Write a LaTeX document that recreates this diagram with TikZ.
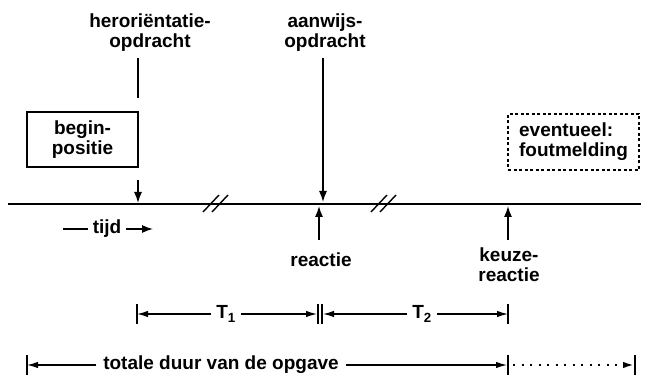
\documentclass[tikz,border=0pt]{standalone}
\usepackage{fontspec}
\setmainfont{Liberation Sans}
\usetikzlibrary{arrows.meta}
\begin{document}
\begin{tikzpicture}[x=1pt,y=-1pt,
  font=\fontsize{19}{20}\selectfont\bfseries,
  lab/.style={align=center, inner sep=0pt},
  thinl/.style={line width=1.4pt},
  tip/.style={-{Latex[length=11pt,width=8pt]}},
  dimtip/.style={-{Latex[length=11pt,width=6.5pt]}},
  barl/.style={line width=1.4pt},
  boxed/.style={draw, line width=1.5pt, align=center, inner sep=0pt},
  dimlab/.style={inner xsep=5pt, inner ysep=0pt}]
\useasboundingbox (0,0) rectangle (649,379);

% main time line
\coordinate (L) at (8,204);
\coordinate (R) at (641,204);
\draw[line width=1.9pt] (L) -- (R);
% break marks
\draw[thinl] (203,212) -- (219,195);
\draw[thinl] (212,212) -- (228,195);
\draw[thinl] (371,212) -- (387,195);
\draw[thinl] (380,212) -- (396,195);

% heroriëntatie-opdracht
\node[lab] (hero) at (150,33) {heroriëntatie-\\opdracht};
\coordinate (h1) at (138,58);
\coordinate (h2) at (138,98);
\draw[thinl] (h1) -- (h2);
\node[boxed, minimum width=111pt, minimum height=55pt] (begin) at (82.5,139.5) {begin-\\positie};
\coordinate (a1) at (138,180);
\coordinate (t1) at (138,203);
\draw[thinl,tip] (a1) -- (t1);

% tijd
\node[dimlab] (tijd) at (107,229) {tijd};
\coordinate (tl) at (63,229);
\coordinate (tr) at (153,229);
\draw[thinl] (tijd.west) -- (tl);
\draw[thinl,tip] (tijd.east) -- (tr);

% aanwijs-opdracht
\node[lab] (aan) at (325,33) {aanwijs-\\opdracht};
\coordinate (a2) at (323,58);
\coordinate (t2) at (323,202);
\draw[thinl,tip] (a2) -- (t2);

% reactie
\node[lab] (rea) at (321,260) {reactie};
\coordinate (r1) at (319,240);
\coordinate (r2) at (319,206);
\draw[thinl,tip] (r1) -- (r2);

% keuze-reactie
\node[lab] (keu) at (509,265) {keuze-\\reactie};
\coordinate (k1) at (508,240);
\coordinate (k2) at (508,206);
\draw[thinl,tip] (k1) -- (k2);

% eventueel foutmelding
\node[boxed, align=left, dash pattern=on 3pt off 2.5pt, minimum width=131pt, minimum height=56pt] (fout) at (573.5,142) {eventueel:\\foutmelding};

% T1 and T2
\node[dimlab] (T1) at (226,314) {T\textsubscript{1}};
\node[dimlab] (T2) at (422,314) {T\textsubscript{2}};
\coordinate (d1) at (137,314);
\coordinate (d2) at (317,314);
\coordinate (d3) at (323,314);
\coordinate (d4) at (508,314);
\draw[thinl,dimtip] (T1.west) -- (d1);
\draw[thinl,dimtip] (T1.east) -- (d2);
\draw[thinl,dimtip] (T2.west) -- (d3);
\draw[thinl,dimtip] (T2.east) -- (d4);
\foreach \x in {137,318,322,508} \draw[barl] (\x,304) -- (\x,324);

% totale duur
\node[dimlab, inner xsep=7pt] (tot) at (221,365) {totale duur van de opgave};
\coordinate (e1) at (27,365);
\coordinate (e2) at (507,365);
\coordinate (e3) at (513,365);
\coordinate (e4) at (634,365);
\draw[thinl,dimtip] (tot.west) -- (e1);
\draw[thinl,dimtip] (tot.east) -- (e2);
\draw[line width=2pt,dash pattern=on 2pt off 6.5pt,dimtip] (e3) -- (e4);
\foreach \x in {27,508,635} \draw[barl] (\x,355) -- (\x,375);
\end{tikzpicture}
\end{document}
